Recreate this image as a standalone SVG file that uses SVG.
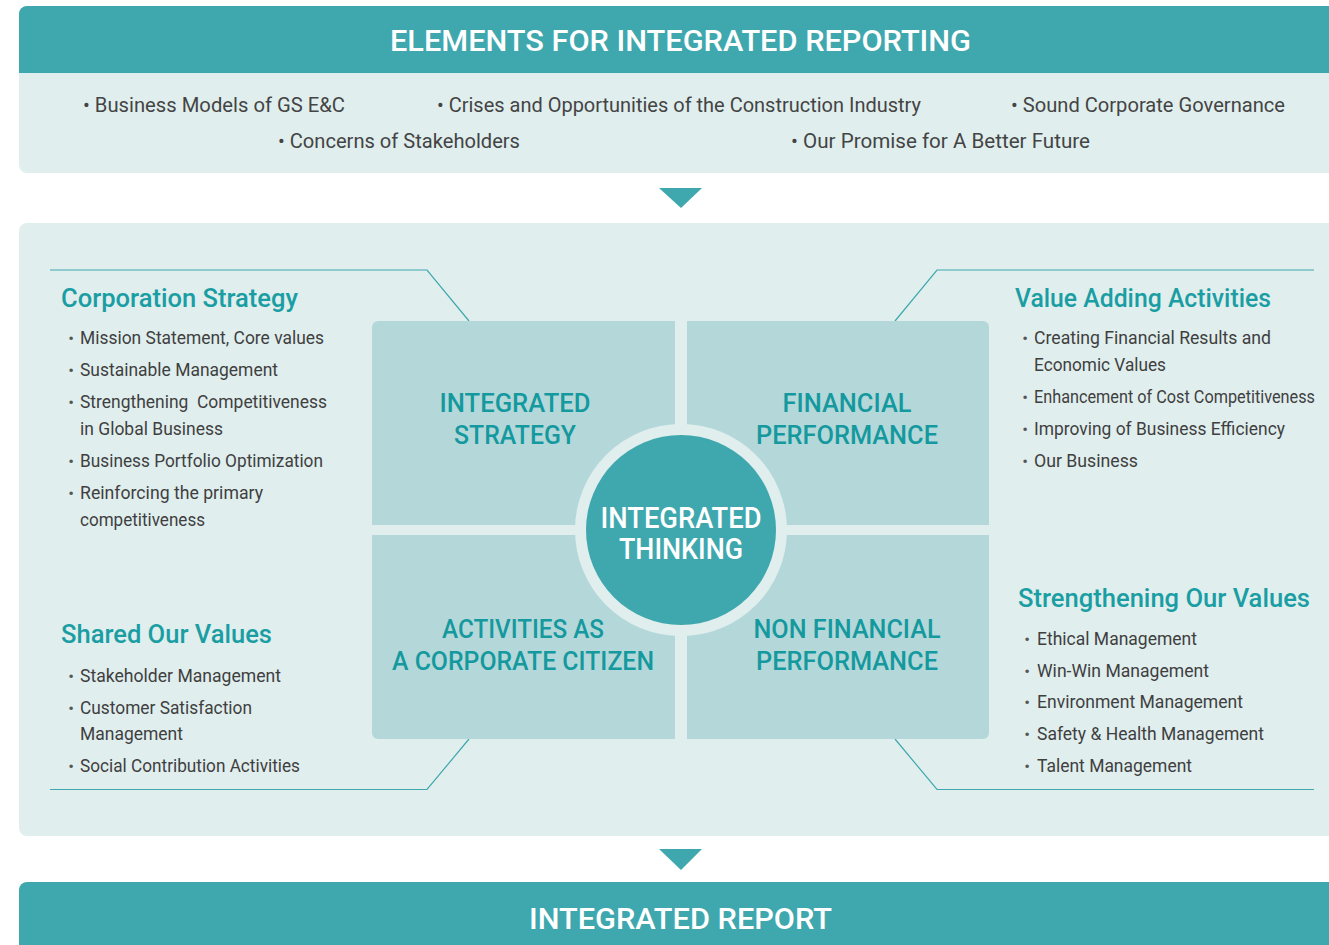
<svg xmlns="http://www.w3.org/2000/svg" width="1329" height="945" viewBox="0 0 1329 945">
<style>
.hdr{fill:#3fa8ae}
.lite{fill:#e0eeee}
.quad{fill:#b4d8da}
.ht{font-family:Roboto,"Liberation Sans",sans-serif;font-size:30px;font-weight:500;fill:#ffffff;text-anchor:middle}
.tb{font-family:Roboto,"Liberation Sans",sans-serif;font-size:20px;fill:#444444}
.ti{font-family:Roboto,"Liberation Sans",sans-serif;font-size:25px;font-weight:500;fill:#1a9ea3}
.it{font-family:Roboto,"Liberation Sans",sans-serif;font-size:17.5px;fill:#3f3f3f}
.bu{font-family:Roboto,"Liberation Sans",sans-serif;font-size:17px;fill:#555555;text-anchor:middle}
.qt{font-family:Roboto,"Liberation Sans",sans-serif;font-size:26px;font-weight:500;fill:#14999e;text-anchor:middle}
.ct{font-family:Roboto,"Liberation Sans",sans-serif;font-size:29px;font-weight:500;fill:#ffffff;text-anchor:middle}
.ln{fill:none;stroke:#3fa8ae;stroke-width:1.2}
.arw{fill:#3fa8ae}
</style>

<g id="elements">
  <rect class="lite" x="19" y="6" width="1330" height="167" rx="8"/>
  <path class="hdr" d="M19,14 a8,8 0 0 1 8,-8 H1349 V73 H19 Z"/>
  <text class="ht" x="680.5" y="51" textLength="581" lengthAdjust="spacingAndGlyphs">ELEMENTS FOR INTEGRATED REPORTING</text>
  <text class="tb" x="83" y="112" textLength="262" lengthAdjust="spacingAndGlyphs">• Business Models of GS E&amp;C</text>
  <text class="tb" x="437" y="112" textLength="484" lengthAdjust="spacingAndGlyphs">• Crises and Opportunities of the Construction Industry</text>
  <text class="tb" x="1011" y="112" textLength="274" lengthAdjust="spacingAndGlyphs">• Sound Corporate Governance</text>
  <text class="tb" x="278" y="148" textLength="242" lengthAdjust="spacingAndGlyphs">• Concerns of Stakeholders</text>
  <text class="tb" x="791" y="148" textLength="299" lengthAdjust="spacingAndGlyphs">• Our Promise for A Better Future</text>
</g>

<g id="thinking-panel">
  <rect class="lite" x="19" y="223" width="1330" height="613" rx="8"/>
</g>

<g id="connectors">
  <polygon class="arw" points="659,188 702,188 681,208"/>
  <polygon class="arw" points="659,849 702,849 681,870"/>
  <polyline class="ln" points="50,270 427,270 469,321"/>
  <polyline class="ln" points="895,321 937,270 1314,270"/>
  <polyline class="ln" points="50,789.5 427,789.5 469,739"/>
  <polyline class="ln" points="895,739 937,789.5 1314,789.5"/>
</g>

<g id="integrated-strategy">
  <path class="quad" d="M372,327 a6,6 0 0 1 6,-6 H675 V525 H372 Z"/>
  <text class="qt" x="515" y="412" textLength="151" lengthAdjust="spacingAndGlyphs">INTEGRATED</text>
  <text class="qt" x="515" y="444" textLength="122" lengthAdjust="spacingAndGlyphs">STRATEGY</text>
</g>
<g id="financial-performance">
  <path class="quad" d="M687,321 H983 a6,6 0 0 1 6,6 V525 H687 Z"/>
  <text class="qt" x="847" y="412" textLength="129" lengthAdjust="spacingAndGlyphs">FINANCIAL</text>
  <text class="qt" x="847" y="444" textLength="182" lengthAdjust="spacingAndGlyphs">PERFORMANCE</text>
</g>
<g id="activities-citizen">
  <path class="quad" d="M372,535 H675 V739 H378 a6,6 0 0 1 -6,-6 Z"/>
  <text class="qt" x="523" y="638" textLength="162" lengthAdjust="spacingAndGlyphs">ACTIVITIES AS</text>
  <text class="qt" x="523" y="670" textLength="262" lengthAdjust="spacingAndGlyphs">A CORPORATE CITIZEN</text>
</g>
<g id="non-financial-performance">
  <path class="quad" d="M687,535 H989 V733 a6,6 0 0 1 -6,6 H687 Z"/>
  <text class="qt" x="847" y="638" textLength="187" lengthAdjust="spacingAndGlyphs">NON FINANCIAL</text>
  <text class="qt" x="847" y="670" textLength="182" lengthAdjust="spacingAndGlyphs">PERFORMANCE</text>
</g>

<g id="integrated-thinking">
  <circle class="lite" cx="681" cy="530" r="106"/>
  <circle class="hdr" cx="681" cy="530" r="95"/>
  <text class="ct" x="681" y="528" textLength="161" lengthAdjust="spacingAndGlyphs">INTEGRATED</text>
  <text class="ct" x="681" y="559" textLength="124" lengthAdjust="spacingAndGlyphs">THINKING</text>
</g>

<g id="corporation-strategy">
  <text class="ti" x="61" y="307" textLength="237" lengthAdjust="spacingAndGlyphs">Corporation Strategy</text>
  <text class="bu" x="71" y="344">•</text>
  <text class="it" x="80" y="344" textLength="244" lengthAdjust="spacingAndGlyphs">Mission Statement, Core values</text>
  <text class="bu" x="71" y="376">•</text>
  <text class="it" x="80" y="376" textLength="198" lengthAdjust="spacingAndGlyphs">Sustainable Management</text>
  <text class="bu" x="71" y="408">•</text>
  <text class="it" x="80" y="408" textLength="247" lengthAdjust="spacingAndGlyphs" xml:space="preserve">Strengthening  Competitiveness</text>
  <text class="it" x="80" y="435" textLength="143" lengthAdjust="spacingAndGlyphs">in Global Business</text>
  <text class="bu" x="71" y="467">•</text>
  <text class="it" x="80" y="467" textLength="243" lengthAdjust="spacingAndGlyphs">Business Portfolio Optimization</text>
  <text class="bu" x="71" y="499">•</text>
  <text class="it" x="80" y="499" textLength="183" lengthAdjust="spacingAndGlyphs">Reinforcing the primary</text>
  <text class="it" x="80" y="526" textLength="125" lengthAdjust="spacingAndGlyphs">competitiveness</text>
</g>

<g id="value-adding-activities">
  <text class="ti" x="1015" y="307" textLength="256" lengthAdjust="spacingAndGlyphs">Value Adding Activities</text>
  <text class="bu" x="1025" y="344">•</text>
  <text class="it" x="1034" y="344" textLength="237" lengthAdjust="spacingAndGlyphs">Creating Financial Results and</text>
  <text class="it" x="1034" y="371" textLength="132" lengthAdjust="spacingAndGlyphs">Economic Values</text>
  <text class="bu" x="1025" y="403">•</text>
  <text class="it" x="1034" y="403" textLength="281" lengthAdjust="spacingAndGlyphs">Enhancement of Cost Competitiveness</text>
  <text class="bu" x="1025" y="435">•</text>
  <text class="it" x="1034" y="435" textLength="251" lengthAdjust="spacingAndGlyphs">Improving of Business Efficiency</text>
  <text class="bu" x="1025" y="467">•</text>
  <text class="it" x="1034" y="467" textLength="104" lengthAdjust="spacingAndGlyphs">Our Business</text>
</g>

<g id="shared-our-values">
  <text class="ti" x="61" y="643" textLength="211" lengthAdjust="spacingAndGlyphs">Shared Our Values</text>
  <text class="bu" x="71" y="682">•</text>
  <text class="it" x="80" y="682" textLength="201" lengthAdjust="spacingAndGlyphs">Stakeholder Management</text>
  <text class="bu" x="71" y="714">•</text>
  <text class="it" x="80" y="714" textLength="172" lengthAdjust="spacingAndGlyphs">Customer Satisfaction</text>
  <text class="it" x="80" y="740" textLength="103" lengthAdjust="spacingAndGlyphs">Management</text>
  <text class="bu" x="71" y="772">•</text>
  <text class="it" x="80" y="772" textLength="220" lengthAdjust="spacingAndGlyphs">Social Contribution Activities</text>
</g>

<g id="strengthening-our-values">
  <text class="ti" x="1018" y="607" textLength="292" lengthAdjust="spacingAndGlyphs">Strengthening Our Values</text>
  <text class="bu" x="1027" y="645">•</text>
  <text class="it" x="1037" y="645" textLength="160" lengthAdjust="spacingAndGlyphs">Ethical Management</text>
  <text class="bu" x="1027" y="677">•</text>
  <text class="it" x="1037" y="677" textLength="172" lengthAdjust="spacingAndGlyphs">Win-Win Management</text>
  <text class="bu" x="1027" y="708">•</text>
  <text class="it" x="1037" y="708" textLength="206" lengthAdjust="spacingAndGlyphs">Environment Management</text>
  <text class="bu" x="1027" y="740">•</text>
  <text class="it" x="1037" y="740" textLength="227" lengthAdjust="spacingAndGlyphs">Safety &amp; Health Management</text>
  <text class="bu" x="1027" y="772">•</text>
  <text class="it" x="1037" y="772" textLength="155" lengthAdjust="spacingAndGlyphs">Talent Management</text>
</g>

<g id="integrated-report">
  <path class="hdr" d="M19,890 a8,8 0 0 1 8,-8 H1349 V960 H19 Z"/>
  <text class="ht" x="680.5" y="929" textLength="303" lengthAdjust="spacingAndGlyphs">INTEGRATED REPORT</text>
</g>
</svg>
